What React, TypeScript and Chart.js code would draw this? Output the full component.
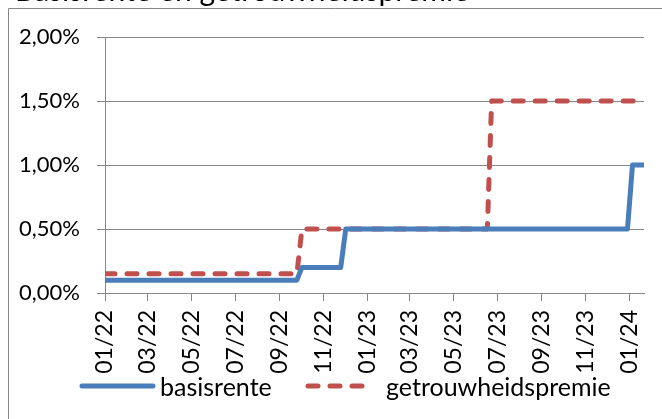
import React, { useEffect, useRef } from "react";
import { Chart, registerables } from "chart.js";

Chart.register(...registerables);

const titleText = "Basisrente en getrouwheidspremie";
const seriesNames = ["basisrente", "getrouwheidspremie"];
const pointDates = [
  "2022-01-01",
  "2022-09-25",
  "2022-10-02",
  "2022-11-25",
  "2022-12-02",
  "2023-06-17",
  "2023-06-23",
  "2023-12-29",
  "2024-01-05",
  "2024-01-21",
];
const basisrente = [0.1, 0.1, 0.2, 0.2, 0.5, 0.5, 0.5, 0.5, 1.0, 1.0];
const getrouwheidspremie = [0.15, 0.15, 0.5, 0.5, 0.5, 0.5, 1.5, 1.5, 1.5, 1.5];
const tickDates = [
  "2022-01-01", "2022-03-01", "2022-05-01", "2022-07-01", "2022-09-01", "2022-11-01",
  "2023-01-01", "2023-03-01", "2023-05-01", "2023-07-01", "2023-09-01", "2023-11-01",
  "2024-01-01",
];
const tickLabels = [
  "01/22", "03/22", "05/22", "07/22", "09/22", "11/22",
  "01/23", "03/23", "05/23", "07/23", "09/23", "11/23", "01/24",
];
const yTicks = [0, 0.5, 1, 1.5, 2];

const BLUE = "#4A7EBB";
const RED = "#C0504D";
const GRID = "#878787";
const FONT = "Lato";

const dayIndex = (s: string) => {
  const [y, m, d] = s.split("-").map(Number);
  return (Date.UTC(y, m - 1, d) - Date.UTC(2022, 0, 1)) / 86400000;
};

const fmtPct = (v: number) => v.toFixed(2).replace(".", ",") + "%";

export default function App() {
  const ref = useRef<HTMLCanvasElement | null>(null);
  useEffect(() => {
    if (!ref.current) return;
    const xs = pointDates.map(dayIndex);
    const decor = {
      id: "decor",
      afterDraw(chart: any) {
        const ctx = chart.ctx;
        ctx.save();
        // outer frame
        ctx.strokeStyle = GRID;
        ctx.lineWidth = 1;
        ctx.beginPath();
        ctx.moveTo(8.5, 419);
        ctx.lineTo(8.5, 8.5);
        ctx.lineTo(662, 8.5);
        ctx.stroke();
        // title (cut off at top)
        ctx.fillStyle = "#000";
        ctx.font = `30px ${FONT}`;
        ctx.textBaseline = "alphabetic";
        ctx.textAlign = "left";
        ctx.fillText(titleText, 15, 1);
        // legend
        const items = [
          { x0: 82, x1: 153, tx: 160, color: BLUE, dash: [] as number[] },
          { x0: 308, x1: 373, tx: 386, color: RED, dash: [10, 12] },
        ];
        items.forEach((it, i) => {
          ctx.strokeStyle = it.color;
          ctx.lineWidth = 5;
          ctx.lineCap = "round";
          ctx.setLineDash(it.dash);
          ctx.beginPath();
          ctx.moveTo(it.x0, 386);
          ctx.lineTo(it.x1, 386);
          ctx.stroke();
          ctx.setLineDash([]);
          ctx.fillStyle = "#000";
          ctx.font = `25px ${FONT}`;
          ctx.textBaseline = "middle";
          ctx.fillText(chart.data.datasets[i].label, it.tx, 388);
        });
        ctx.restore();
      },
    };
    const chart = new Chart(ref.current, {
      type: "line",
      data: {
        datasets: [
          {
            label: seriesNames[0],
            data: xs.map((x, i) => ({ x, y: basisrente[i] })),
            borderColor: BLUE,
            borderWidth: 5,
            pointRadius: 0,
            tension: 0,
            borderCapStyle: "round",
            borderJoinStyle: "round",
          },
          {
            label: seriesNames[1],
            data: xs.map((x, i) => ({ x, y: getrouwheidspremie[i] })),
            borderColor: RED,
            borderWidth: 5,
            pointRadius: 0,
            tension: 0,
            borderDash: [10, 12],
            borderCapStyle: "round",
            borderJoinStyle: "round",
          },
        ],
      },
      options: {
        animation: false,
        responsive: false,
        layout: { padding: { left: 8, top: 37, right: 18, bottom: 0 } },
        plugins: { legend: { display: false }, tooltip: { enabled: false } },
        scales: {
          x: {
            type: "linear",
            min: 0,
            max: dayIndex(pointDates[pointDates.length - 1]),
            afterBuildTicks: (scale: any) => {
              scale.ticks = tickDates.map((d) => ({ value: dayIndex(d) }));
            },
            afterFit: (scale: any) => {
              scale.height = 126;
              scale.paddingLeft = 0;
              scale.paddingRight = 0;
            },
            ticks: {
              autoSkip: false,
              minRotation: 90,
              maxRotation: 90,
              padding: 9,
              color: "#000",
              font: { family: FONT, size: 23 },
              callback: (_v: any, i: number) => tickLabels[i],
            },
            grid: { drawOnChartArea: false, color: GRID, tickLength: 8 },
            border: { color: GRID },
          },
          y: {
            min: 0,
            max: 2,
            afterBuildTicks: (scale: any) => {
              scale.ticks = yTicks.map((v) => ({ value: v }));
            },
            afterFit: (scale: any) => {
              scale.width = 97;
            },
            ticks: {
              padding: 17,
              color: "#000",
              font: { family: FONT, size: 22 },
              callback: (v: any) => fmtPct(Number(v)),
            },
            grid: { color: GRID, tickLength: 8 },
            border: { color: GRID },
          },
        },
      },
      plugins: [decor],
    } as any);
    return () => chart.destroy();
  }, []);
  return (
    <canvas
      ref={ref}
      width={662}
      height={419}
      style={{ position: "absolute", left: 0, top: 0, width: 662, height: 419, background: "#fff" }}
    />
  );
}
